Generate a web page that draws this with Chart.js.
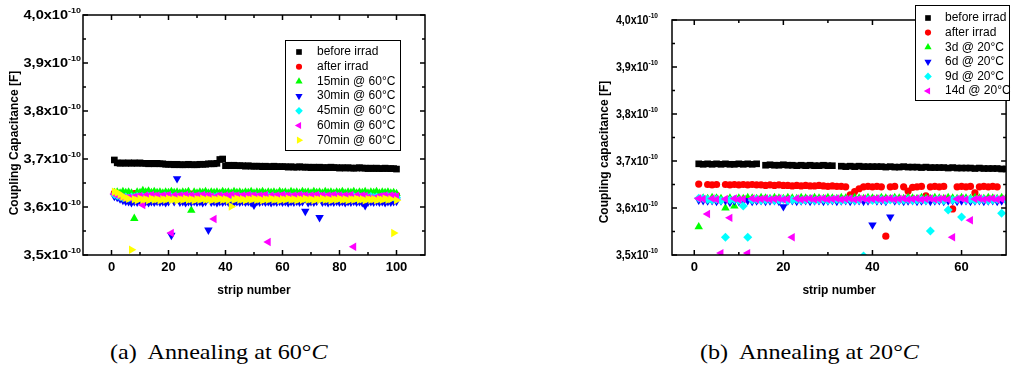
<!DOCTYPE html>
<html>
<head>
<meta charset="utf-8">
<script src="https://cdn.jsdelivr.net/npm/chart.js@4.4.1/dist/chart.umd.min.js"></script>
<style>
  body { margin: 0; background: #fff; width: 1011px; height: 365px; position: relative; overflow: hidden; }
  canvas { position: absolute; top: 0; }
  #chartA { left: 0; }
  #chartB { left: 505px; }
  .caption { position: absolute; top: 340px; font-family: "Liberation Serif", "Times New Roman", serif; font-size: 21px; line-height: 24px; white-space: pre; transform: scaleX(1.15); transform-origin: left center; }
</style>
</head>
<body>
<canvas id="chartA" width="505" height="310"></canvas>
<canvas id="chartB" width="506" height="310"></canvas>
<div class="caption" style="left:110px">(a)  Annealing at 60°<i>C</i></div>
<div class="caption" style="left:700px">(b)  Annealing at 20°<i>C</i></div>

<script>
// Kopplungskapazität in Einheiten von 1e-10 F, Index = Streifennummer - 1

// --- Annealing bei 60°C (Streifen 1..100)
const labelsA = ['before irrad', 'after irrad', '15min @ 60°C', '30min @ 60°C', '45min @ 60°C', '60min @ 60°C', '70min @ 60°C'];

const beforeA = [
  3.698, 3.692, 3.691, 3.692, 3.691, 3.692, 3.691, 3.692, 3.691, 3.692,
  3.691, 3.691, 3.690, 3.691, 3.690, 3.691, 3.690, 3.690, 3.689, 3.689,
  3.689, 3.688, 3.689, 3.688, 3.688, 3.688, 3.689, 3.688, 3.688, 3.688,
  3.689, 3.689, 3.689, 3.690, 3.690, 3.690, 3.691, 3.699, 3.700, 3.686,
  3.687, 3.686, 3.687, 3.686, 3.686, 3.686, 3.685, 3.686, 3.685, 3.685,
  3.685, 3.685, 3.684, 3.685, 3.684, 3.684, 3.685, 3.684, 3.684, 3.684,
  3.684, 3.683, 3.684, 3.683, 3.683, 3.684, 3.683, 3.683, 3.683, 3.682,
  3.683, 3.682, 3.683, 3.682, 3.682, 3.682, 3.683, 3.682, 3.682, 3.681,
  3.682, 3.681, 3.682, 3.681, 3.681, 3.681, 3.682, 3.681, 3.681, 3.680,
  3.681, 3.680, 3.681, 3.680, 3.680, 3.681, 3.680, 3.680, 3.680, 3.679
];
const afterA = [
  3.629, 3.628, 3.627, 3.627, 3.626, 3.627, 3.626, 3.628, 3.627, 3.628,
  3.628, 3.627, 3.628, 3.627, 3.628, 3.627, 3.626, 3.627, 3.627, 3.628,
  3.627, 3.626, 3.627, 3.628, 3.627, 3.626, 3.627, 3.627, 3.626, 3.627,
  3.628, 3.627, 3.626, 3.627, 3.627, 3.626, 3.627, 3.628, 3.627, 3.626,
  3.627, 3.627, 3.626, 3.627, 3.628, 3.627, 3.626, 3.627, 3.627, 3.626,
  3.627, 3.626, 3.627, 3.627, 3.626, 3.627, 3.628, 3.627, 3.626, 3.627,
  3.627, 3.626, 3.627, 3.626, 3.627, 3.627, 3.626, 3.627, 3.626, 3.627,
  3.626, 3.627, 3.627, 3.626, 3.627, 3.626, 3.627, 3.626, 3.627, 3.626,
  3.627, 3.626, 3.626, 3.627, 3.626, 3.627, 3.626, 3.626, 3.627, 3.626,
  3.626, 3.627, 3.626, 3.626, 3.627, 3.626, 3.626, 3.627, 3.626, 3.625
];
const min15A = [
  3.630, 3.631, 3.629, 3.632, 3.630, 3.631, 3.629, 3.576, 3.631, 3.630,
  3.634, 3.631, 3.633, 3.630, 3.632, 3.630, 3.631, 3.629, 3.631, 3.630,
  3.632, 3.630, 3.631, 3.629, 3.631, 3.630, 3.632, 3.593, 3.631, 3.629,
  3.631, 3.630, 3.632, 3.629, 3.631, 3.630, 3.631, 3.629, 3.632, 3.630,
  3.631, 3.629, 3.632, 3.630, 3.631, 3.629, 3.631, 3.630, 3.632, 3.629,
  3.631, 3.630, 3.632, 3.629, 3.631, 3.630, 3.631, 3.629, 3.632, 3.630,
  3.631, 3.629, 3.632, 3.630, 3.631, 3.629, 3.632, 3.630, 3.631, 3.629,
  3.632, 3.630, 3.631, 3.629, 3.632, 3.630, 3.631, 3.629, 3.631, 3.630,
  3.632, 3.629, 3.631, 3.630, 3.632, 3.629, 3.631, 3.630, 3.632, 3.629,
  3.631, 3.630, 3.632, 3.629, 3.631, 3.630, 3.631, 3.629, 3.630, 3.628
];
const min30A = [
  3.622, 3.620, 3.617, 3.614, 3.612, 3.611, 3.609, 3.611, 3.610, 3.612,
  3.610, 3.611, 3.609, 3.611, 3.610, 3.612, 3.610, 3.611, 3.609, 3.611,
  3.541, 3.611, 3.659, 3.610, 3.611, 3.609, 3.611, 3.610, 3.612, 3.610,
  3.611, 3.609, 3.611, 3.552, 3.610, 3.611, 3.609, 3.611, 3.610, 3.612,
  3.610, 3.611, 3.609, 3.611, 3.610, 3.612, 3.610, 3.611, 3.609, 3.604,
  3.611, 3.610, 3.612, 3.610, 3.611, 3.609, 3.611, 3.610, 3.612, 3.610,
  3.611, 3.609, 3.611, 3.610, 3.612, 3.610, 3.611, 3.591, 3.609, 3.611,
  3.610, 3.612, 3.578, 3.610, 3.611, 3.609, 3.611, 3.610, 3.612, 3.610,
  3.611, 3.609, 3.611, 3.610, 3.612, 3.610, 3.611, 3.609, 3.603, 3.610,
  3.611, 3.610, 3.612, 3.610, 3.611, 3.609, 3.611, 3.610, 3.611, 3.612
];
const min45A = [
  3.626, 3.624, 3.622, 3.620, 3.621, 3.619, 3.621, 3.620, 3.622, 3.620,
  3.621, 3.620, 3.622, 3.619, 3.621, 3.620, 3.621, 3.619, 3.622, 3.620,
  3.621, 3.619, 3.621, 3.620, 3.622, 3.620, 3.621, 3.619, 3.621, 3.620,
  3.622, 3.620, 3.621, 3.619, 3.621, 3.620, 3.622, 3.620, 3.621, 3.619,
  3.621, 3.620, 3.622, 3.620, 3.621, 3.619, 3.621, 3.620, 3.622, 3.620,
  3.621, 3.619, 3.621, 3.620, 3.622, 3.620, 3.621, 3.619, 3.621, 3.620,
  3.622, 3.620, 3.621, 3.619, 3.621, 3.620, 3.622, 3.620, 3.621, 3.619,
  3.621, 3.620, 3.622, 3.620, 3.621, 3.619, 3.621, 3.620, 3.622, 3.620,
  3.621, 3.619, 3.621, 3.620, 3.622, 3.620, 3.621, 3.619, 3.621, 3.620,
  3.622, 3.620, 3.621, 3.619, 3.621, 3.620, 3.622, 3.620, 3.621, 3.620
];
const min60A = [
  3.627, 3.625, 3.622, 3.620, 3.619, 3.620, 3.619, 3.621, 3.622, 3.623,
  3.604, 3.624, 3.623, 3.625, 3.623, 3.624, 3.622, 3.624, 3.623, 3.625,
  3.546, 3.624, 3.622, 3.624, 3.623, 3.625, 3.623, 3.624, 3.622, 3.624,
  3.623, 3.625, 3.623, 3.624, 3.622, 3.575, 3.623, 3.624, 3.622, 3.624,
  3.623, 3.625, 3.623, 3.624, 3.622, 3.624, 3.623, 3.625, 3.623, 3.624,
  3.622, 3.624, 3.623, 3.625, 3.527, 3.624, 3.622, 3.624, 3.623, 3.625,
  3.623, 3.624, 3.622, 3.624, 3.623, 3.625, 3.623, 3.624, 3.622, 3.624,
  3.623, 3.625, 3.623, 3.624, 3.622, 3.624, 3.623, 3.625, 3.623, 3.624,
  3.622, 3.624, 3.623, 3.625, 3.517, 3.624, 3.622, 3.624, 3.623, 3.620,
  3.618, 3.617, 3.620, 3.622, 3.623, 3.624, 3.622, 3.624, 3.623, 3.622
];
const min70A = [
  3.632, 3.630, 3.626, 3.622, 3.619, 3.617, 3.511, 3.616, 3.614, 3.617,
  3.615, 3.616, 3.614, 3.617, 3.615, 3.616, 3.614, 3.616, 3.615, 3.617,
  3.615, 3.616, 3.614, 3.616, 3.615, 3.617, 3.615, 3.616, 3.614, 3.616,
  3.615, 3.617, 3.615, 3.616, 3.614, 3.616, 3.615, 3.617, 3.615, 3.616,
  3.614, 3.601, 3.615, 3.617, 3.615, 3.616, 3.614, 3.616, 3.615, 3.617,
  3.615, 3.616, 3.614, 3.616, 3.615, 3.617, 3.615, 3.616, 3.614, 3.616,
  3.615, 3.617, 3.615, 3.616, 3.614, 3.616, 3.615, 3.617, 3.615, 3.616,
  3.614, 3.616, 3.615, 3.617, 3.615, 3.616, 3.614, 3.616, 3.615, 3.617,
  3.615, 3.616, 3.614, 3.616, 3.615, 3.617, 3.615, 3.616, 3.614, 3.616,
  3.615, 3.616, 3.614, 3.616, 3.615, 3.617, 3.615, 3.616, 3.546, 3.614
];

// --- Annealing bei 20°C (Streifen 1..70), null = Streifen nicht gemessen
const labelsB = ['before irrad', 'after irrad', '3d @ 20°C', '6d @ 20°C', '9d @ 20°C', '14d @ 20°C'];

const beforeB = [
  3.694, 3.693, 3.694, 3.693, 3.694, 3.693, 3.694, 3.693, 3.693, 3.694,
  3.693, 3.694, 3.693, 3.694, null,  3.691, 3.692, 3.691, 3.691, 3.692,
  3.691, 3.691, 3.690, 3.691, 3.690, 3.691, 3.690, 3.690, 3.691, 3.690,
  3.690, null,  3.689, 3.688, 3.689, 3.688, 3.689, 3.688, 3.688, 3.688,
  3.688, 3.688, 3.687, 3.688, 3.687, 3.687, 3.688, 3.687, 3.687, 3.687,
  3.686, 3.687, 3.686, 3.686, 3.686, 3.686, 3.685, 3.686, 3.685, 3.685,
  3.685, 3.685, 3.684, 3.685, 3.684, 3.684, 3.684, 3.684, 3.683, 3.683
];
const afterB = [
  3.651, null,  3.650, 3.649, 3.650, null,  3.650, 3.649, 3.650, 3.649,
  3.650, 3.649, 3.650, 3.649, 3.649, 3.648, 3.649, 3.648, 3.649, 3.648,
  3.648, 3.647, 3.648, 3.647, 3.648, 3.647, 3.647, 3.648, 3.647, 3.646,
  3.647, 3.646, 3.646, 3.645, 3.628, 3.635, 3.641, 3.645, 3.646, 3.645,
  3.646, 3.645, 3.540, 3.645, 3.646, null,  3.645, 3.636, 3.644, 3.645,
  3.646, 3.626, 3.645, 3.646, 3.645, 3.646, null,  3.598, 3.645, 3.646,
  3.645, 3.646, 3.632, 3.645, 3.646, 3.645, 3.646, 3.645, null,  null
];
const day3B = [
  3.560, 3.621, 3.620, 3.622, 3.621, 3.620, 3.600, 3.621, 3.604, 3.621,
  3.620, 3.622, 3.621, 3.620, 3.622, 3.621, 3.620, 3.622, 3.621, 3.620,
  3.622, 3.621, 3.620, 3.622, 3.621, 3.620, 3.622, 3.621, 3.620, 3.622,
  3.621, 3.620, 3.622, 3.621, 3.620, 3.622, 3.621, 3.620, 3.622, 3.621,
  3.620, 3.622, 3.621, 3.620, 3.622, 3.621, 3.620, 3.622, 3.621, 3.620,
  3.622, 3.621, 3.620, 3.622, 3.621, 3.620, 3.622, 3.621, 3.620, 3.622,
  3.621, 3.620, 3.622, 3.621, 3.620, 3.622, 3.621, 3.620, 3.622, 3.621
];
const day6B = [
  3.617, 3.616, 3.615, 3.616, 3.614, 3.615, 3.616, 3.612, 3.615, 3.614,
  3.615, 3.616, 3.614, 3.615, 3.616, 3.614, 3.615, 3.616, 3.614, 3.603,
  3.615, 3.616, 3.614, 3.615, 3.616, 3.614, 3.615, 3.616, 3.614, 3.615,
  3.616, 3.614, 3.615, 3.616, 3.614, 3.615, 3.616, 3.614, 3.615, 3.564,
  3.615, 3.616, 3.614, 3.581, 3.615, 3.616, 3.614, 3.615, 3.616, 3.614,
  3.615, 3.616, 3.614, 3.615, 3.616, 3.614, 3.615, 3.616, 3.614, 3.615,
  3.616, 3.614, 3.615, 3.616, 3.614, 3.615, 3.616, 3.614, 3.615, 3.616
];
const day9B = [
  3.621, 3.620, 3.618, 3.617, 3.618, 3.616, 3.538, 3.617, 3.618, 3.616,
  3.604, 3.538, 3.617, 3.618, 3.616, 3.617, 3.618, 3.616, 3.617, 3.618,
  3.616, 3.617, 3.618, 3.616, 3.617, 3.618, 3.616, 3.617, 3.618, 3.616,
  3.617, 3.618, 3.616, 3.617, 3.618, 3.616, 3.617, 3.498, 3.618, 3.616,
  3.617, 3.618, 3.616, 3.617, 3.618, 3.616, 3.617, 3.618, 3.616, 3.617,
  3.618, 3.616, 3.551, 3.617, 3.618, 3.616, 3.596, 3.617, 3.618, 3.581,
  3.617, 3.618, 3.616, 3.617, 3.618, 3.616, 3.617, 3.618, 3.589, 3.617
];
const day14B = [
  3.620, 3.619, 3.587, 3.620, 3.618, 3.504, 3.619, 3.579, 3.620, 3.618,
  3.619, 3.504, 3.620, 3.618, 3.619, 3.620, 3.618, 3.619, 3.620, 3.618,
  3.619, 3.538, 3.620, 3.618, 3.619, 3.620, 3.618, 3.619, 3.620, 3.618,
  3.619, 3.620, 3.618, 3.619, 3.620, 3.618, 3.619, 3.620, 3.618, 3.619,
  3.620, 3.618, 3.619, 3.620, 3.618, 3.619, 3.620, 3.618, 3.619, 3.620,
  3.618, 3.619, 3.620, 3.618, 3.619, 3.620, 3.618, 3.538, 3.619, 3.620,
  3.618, 3.574, 3.619, 3.620, 3.618, 3.619, 3.620, 3.618, 3.619, 3.620
];

// Achsen-Ticks
const yMajor = [3.5, 3.6, 3.7, 3.8, 3.9, 4.0];
const yMinor = [3.55, 3.65, 3.75, 3.85, 3.95];
const xMajorA = [0, 20, 40, 60, 80, 100];
const xMinorA = [10, 30, 50, 70, 90];
const xMajorB = [0, 20, 40, 60];
const xMinorB = [10, 30, 50];

// Symbole wie im Origin-Plot
const colors = ['#000000', '#ff0000', '#00ff00', '#0000ff', '#00ffff', '#ff00ff', '#ffff00'];
const styles = [
  { pointStyle: 'rect', rot: 0, r: 4.7 },
  { pointStyle: 'circle', rot: 0, r: 3.6 },
  { pointStyle: 'triangle', rot: 0, r: 4.9 },
  { pointStyle: 'triangle', rot: 180, r: 4.9 },
  { pointStyle: 'rectRot', rot: 0, r: 4.5 },
  { pointStyle: 'triangle', rot: 270, r: 4.9 },
  { pointStyle: 'triangle', rot: 90, r: 4.9 }
];

function makeDatasets(labels, series) {
  return series.map((ys, i) => ({
    label: labels[i],
    data: ys.map((v, k) => ({ x: k + 1, y: v })),
    pointStyle: styles[i].pointStyle,
    pointRotation: styles[i].rot,
    pointRadius: styles[i].r,
    backgroundColor: colors[i],
    borderWidth: 0,
    order: series.length - i,   // spätere Messungen oben zeichnen
    clip: 0
  }));
}

// Rahmen, Ticks nach innen, Beschriftung und Legende von Hand
const framePlugin = {
  id: 'frame',
  afterDraw(chart, args, o) {
    const ctx = chart.ctx, a = chart.chartArea;
    const sx = chart.scales.x, sy = chart.scales.y;
    ctx.save();
    ctx.strokeStyle = '#000';
    ctx.lineWidth = 1.5;
    ctx.strokeRect(a.left, a.top, a.right - a.left, a.bottom - a.top);

    ctx.beginPath();
    function xTick(v, len) {
      const p = sx.getPixelForValue(v);
      ctx.moveTo(p, a.bottom); ctx.lineTo(p, a.bottom - len);
      ctx.moveTo(p, a.top); ctx.lineTo(p, a.top + len);
    }
    function yTick(v, len) {
      const p = sy.getPixelForValue(v);
      ctx.moveTo(a.left, p); ctx.lineTo(a.left + len, p);
      ctx.moveTo(a.right, p); ctx.lineTo(a.right - len, p);
    }
    o.xMajor.forEach(v => xTick(v, 5));
    o.xMinor.forEach(v => xTick(v, 3));
    yMajor.forEach(v => yTick(v, 5));
    yMinor.forEach(v => yTick(v, 3));
    ctx.stroke();

    ctx.fillStyle = '#000';
    ctx.textBaseline = 'middle';

    // x-Beschriftung
    ctx.font = 'bold 13px "Liberation Sans", Arial, sans-serif';
    ctx.textAlign = 'center';
    o.xMajor.forEach(v => ctx.fillText(String(v), sx.getPixelForValue(v), o.xLabelY));
    ctx.font = 'bold 12px "Liberation Sans", Arial, sans-serif';
    ctx.fillText('strip number', (a.left + a.right) / 2, o.xTitleY);

    // y-Beschriftung: "3,5x10" mit Exponent -10
    yMajor.forEach(v => {
      const p = sy.getPixelForValue(v);
      ctx.save();
      ctx.translate(o.yLabelRight, p);
      ctx.scale(o.yLabelSx, 1);
      ctx.font = 'bold 8px "Liberation Sans", Arial, sans-serif';
      const w2 = ctx.measureText('-10').width;
      ctx.textAlign = 'left';
      ctx.fillText('-10', -w2, -4);
      ctx.font = 'bold ' + o.yLabelSize + 'px "Liberation Sans", Arial, sans-serif';
      ctx.textAlign = 'right';
      ctx.fillText(v.toFixed(1).replace('.', ',') + 'x10', -w2, 0);
      ctx.restore();
    });

    ctx.save();
    ctx.translate(o.yTitleX, o.yTitleY);
    ctx.rotate(-Math.PI / 2);
    ctx.font = 'bold 12px "Liberation Sans", Arial, sans-serif';
    ctx.textAlign = 'center';
    ctx.fillText(o.yTitle, 0, 0);
    ctx.restore();

    // Legende
    const L = o.legend;
    ctx.fillStyle = '#fff';
    ctx.fillRect(L.x, L.y, L.w, L.h);
    ctx.lineWidth = 1;
    ctx.strokeStyle = '#000';
    ctx.strokeRect(L.x + 0.5, L.y + 0.5, L.w, L.h);
    ctx.font = '12px "Liberation Sans", Arial, sans-serif';
    ctx.textAlign = 'left';
    chart.data.datasets.forEach((ds, i) => {
      const yy = L.rowY + i * L.step;
      ctx.fillStyle = ds.backgroundColor;
      Chart.helpers.drawPoint(ctx, {
        pointStyle: ds.pointStyle, rotation: ds.pointRotation, radius: ds.pointRadius * 0.85, borderWidth: 0
      }, L.symX, yy);
      ctx.fillStyle = '#000';
      ctx.fillText(ds.label, L.textX, yy);
    });
    ctx.restore();
  }
};

function makeChart(id, datasets, xMin, xMax, padding, frameOpts) {
  return new Chart(document.getElementById(id), {
    type: 'scatter',
    data: { datasets: datasets },
    options: {
      responsive: false,
      animation: false,
      layout: { padding: padding },
      scales: {
        x: { type: 'linear', min: xMin, max: xMax, display: false },
        y: { type: 'linear', min: 3.5, max: 4.0, display: false }
      },
      plugins: {
        legend: { display: false },
        tooltip: { enabled: false },
        frame: frameOpts
      }
    },
    plugins: [framePlugin]
  });
}

makeChart('chartA',
  makeDatasets(labelsA, [beforeA, afterA, min15A, min30A, min45A, min60A, min70A]),
  -10, 110,
  { left: 83, top: 15, right: 80, bottom: 55 },
  {
    xMajor: xMajorA, xMinor: xMinorA, xLabelY: 267, xTitleY: 291,
    yLabelRight: 81, yLabelSx: 1.12, yLabelSize: 13,
    yTitle: 'Coupling Capacitance [F]', yTitleX: 15, yTitleY: 143,
    legend: { x: 285, y: 40, w: 115, h: 110, symX: 299, textX: 317, rowY: 52, step: 14.7 }
  });

makeChart('chartB',
  makeDatasets(labelsB, [beforeB, afterB, day3B, day6B, day9B, day14B]),
  -5, 70,
  { left: 167, top: 20, right: 4, bottom: 55 },
  {
    xMajor: xMajorB, xMinor: xMinorB, xLabelY: 267, xTitleY: 291,
    yLabelRight: 153, yLabelSx: 0.82, yLabelSize: 13,
    yTitle: 'Coupling capacitance [F]', yTitleX: 100, yTitleY: 152,
    legend: { x: 410, y: 5, w: 94, h: 95, symX: 423, textX: 440, rowY: 18, step: 14.6 }
  });
</script>
</body>
</html>
